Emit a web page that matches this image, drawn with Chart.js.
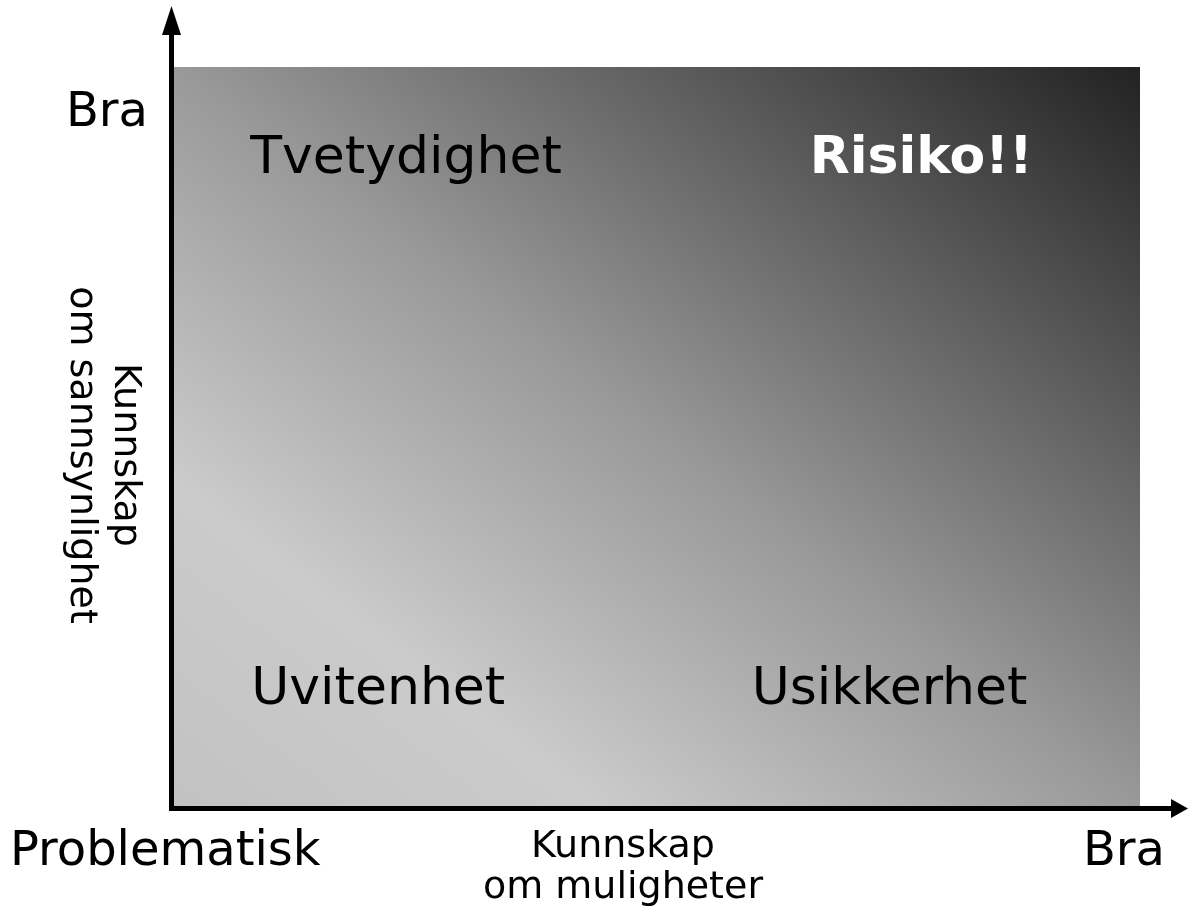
<!DOCTYPE html>
<html>
<head>
<meta charset="utf-8">
<script src="https://cdn.jsdelivr.net/npm/chart.js@4.4.1/dist/chart.umd.min.js"></script>
<style>
html,body{margin:0;padding:0;background:#fff;}
#wrap{width:1188px;height:908px;}
</style>
</head>
<body>
<div id="wrap"><canvas id="c" width="1188" height="908"></canvas></div>
<script>
// quadrant labels, placed in data space (0..1 on both axes)
const quadLabels=['Tvetydighet','Risiko!!','Uvitenhet','Usikkerhet'];
const quadX=[0.079,0.658,0.08,0.598];
const quadY=[0.875,0.875,0.156,0.156];
const quadBold=[false,true,false,false];
const xEndLabels=['Problematisk','Bra'];
const yEndLabel='Bra';
const xTitle=['Kunnskap','om muligheter'];
const yTitle=['Kunnskap','om sannsynlighet'];

const FONT='"DejaVu Sans", Verdana, sans-serif';

const bgPlugin={
  id:'bg',
  beforeDatasetsDraw(chart){
    const {ctx,chartArea:a}=chart;
    const cx=(a.left+a.right)/2, cy=(a.top+a.bottom)/2;
    // iso-lines follow the top-left -> bottom-right diagonal
    let dx=a.bottom-a.top, dy=-(a.right-a.left);
    const len=Math.hypot(dx,dy); dx/=len; dy/=len;
    const half=(a.right-cx)*dx+(a.top-cy)*dy;
    const g=ctx.createLinearGradient(cx-half*dx,cy-half*dy,cx+half*dx,cy+half*dy);
    g.addColorStop(0,'#c2c2c2');
    g.addColorStop(0.22,'#cbcbcb');
    g.addColorStop(0.5,'#999999');
    g.addColorStop(1,'#222222');
    ctx.save();
    ctx.fillStyle=g;
    ctx.fillRect(a.left,a.top,a.right-a.left,a.bottom-a.top);
    ctx.restore();
  },
  afterDraw(chart){
    const {ctx,chartArea:a}=chart;
    ctx.save();
    // axes with arrows
    ctx.fillStyle='#000';
    ctx.fillRect(a.left-5,34,5,a.bottom+5-34);
    ctx.beginPath();
    ctx.moveTo(a.left-2.5,6);ctx.lineTo(a.left-12,35);ctx.lineTo(a.left+7,35);ctx.closePath();ctx.fill();
    ctx.fillRect(a.left-5,a.bottom,1173-(a.left-5),5);
    ctx.beginPath();
    ctx.moveTo(1188,a.bottom+2.5);ctx.lineTo(1171,a.bottom-7);ctx.lineTo(1171,a.bottom+12);ctx.closePath();ctx.fill();

    // quadrant labels
    const meta=chart.getDatasetMeta(0);
    ctx.textBaseline='middle';
    ctx.textAlign='left';
    meta.data.forEach((pt,i)=>{
      ctx.font=(quadBold[i]?'bold ':'')+'52px '+FONT;
      ctx.fillStyle=quadBold[i]?'#fff':'#000';
      ctx.fillText(quadLabels[i],pt.x,pt.y);
    });

    // axis end labels
    ctx.fillStyle='#000';
    ctx.font='48px '+FONT;
    ctx.textAlign='right';
    ctx.fillText(yEndLabel,148,114);
    ctx.textAlign='left';
    ctx.fillText(xEndLabels[0],10,853);
    ctx.textAlign='right';
    ctx.fillText(xEndLabels[1],1165,853);

    // axis titles
    ctx.font='38px '+FONT;
    ctx.textAlign='center';
    const mx=(a.left+a.right)/2-34;
    ctx.fillText(xTitle[0],mx,847);
    ctx.fillText(xTitle[1],mx,888);
    ctx.translate(103,455);
    ctx.rotate(Math.PI/2);
    ctx.fillText(yTitle[0],0,-22);
    ctx.fillText(yTitle[1],0,22);
    ctx.restore();
  }
};

new Chart(document.getElementById('c'),{
  type:'scatter',
  data:{datasets:[{data:quadLabels.map((l,i)=>({x:quadX[i],y:quadY[i]})),pointRadius:0}]},
  options:{
    responsive:false,
    animation:false,
    layout:{padding:{left:174,right:48,top:67,bottom:102}},
    plugins:{legend:{display:false},tooltip:{enabled:false}},
    scales:{
      x:{type:'linear',min:0,max:1,display:false},
      y:{type:'linear',min:0,max:1,display:false}
    }
  },
  plugins:[bgPlugin]
});
</script>
</body>
</html>
